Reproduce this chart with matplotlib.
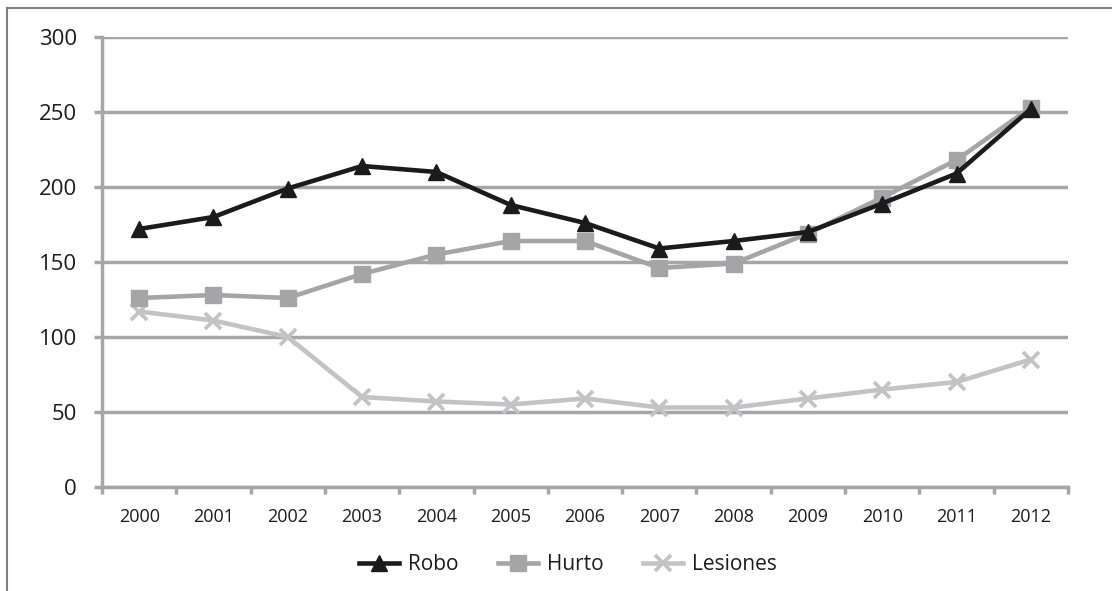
import matplotlib
matplotlib.use("Agg")
import matplotlib.pyplot as plt
from matplotlib.lines import Line2D

plt.rcParams['font.family'] = ['Open Sans', 'DejaVu Sans']

years = ['2000', '2001', '2002', '2003', '2004', '2005', '2006',
         '2007', '2008', '2009', '2010', '2011', '2012']
robo = [172, 180, 199, 214, 210, 188, 176, 159, 164, 170, 189, 209, 252]
hurto = [126, 128, 126, 142, 155, 164, 164, 146, 149, 169, 193, 218, 253]
lesiones = [117, 111, 100, 60, 57, 55, 59, 53, 53, 59, 65, 70, 85]
y_ticks = [0, 50, 100, 150, 200, 250, 300]

W, H = 1112, 591
fig = plt.figure(figsize=(W / 100, H / 100), dpi=100)
ax = fig.add_axes([102 / W, (H - 487) / H, (1068 - 102) / W, (487 - 37) / H])

grid_c = '#a6a6a6'
text_c = '#1c1c1c'
x = list(range(len(years)))

ax.plot(x, lesiones, color='#c3c3c5', lw=3.3, marker='x', ms=11.5, mew=2.7,
        label='Lesiones', zorder=3)
ax.plot(x, hurto, color='#a5a5a7', lw=3.3, marker='s', ms=12,
        label='Hurto', zorder=4)
ax.plot(x, robo, color='#1b1b1b', lw=3.3, marker='^', ms=11.5,
        label='Robo', zorder=5)

ax.set_xlim(-0.5, len(years) - 0.5)
ax.set_ylim(0, 300)
ax.set_yticks(y_ticks)
ax.set_yticklabels([str(v) for v in y_ticks])
ax.yaxis.grid(True, color=grid_c, lw=2.5)
ax.set_axisbelow(True)

ax.set_xticks(x)
ax.set_xticklabels(years)
ax.set_xticks([i - 0.5 for i in range(len(years) + 1)], minor=True)
ax.tick_params(axis='x', which='major', length=0, pad=15, labelsize=13,
               labelcolor=text_c)
ax.tick_params(axis='x', which='minor', length=5, width=2.5, color=grid_c)
ax.tick_params(axis='y', length=6, width=2.5, color=grid_c, pad=12,
               labelsize=16, labelcolor=text_c)

for side in ('top', 'right'):
    ax.spines[side].set_visible(False)
for side in ('left', 'bottom'):
    ax.spines[side].set_color(grid_c)
    ax.spines[side].set_linewidth(2.5)

handles, labels = ax.get_legend_handles_labels()
order = [2, 1, 0]
fig.legend([handles[i] for i in order], [labels[i] for i in order],
           loc='center', bbox_to_anchor=(568 / W, 1 - 565 / H), ncol=3,
           frameon=False, fontsize=15, handlelength=1.9, handletextpad=0.45,
           columnspacing=1.9, labelcolor=text_c)

# outer frame (top and left edges)
fig.add_artist(Line2D([7 / W, 1.0], [1 - 8 / H, 1 - 8 / H],
                      transform=fig.transFigure, color='#808080', lw=1.5))
fig.add_artist(Line2D([7 / W, 7 / W], [1 - 8 / H, 0.0],
                      transform=fig.transFigure, color='#808080', lw=1.5))

fig.savefig('out.png', dpi=100)
